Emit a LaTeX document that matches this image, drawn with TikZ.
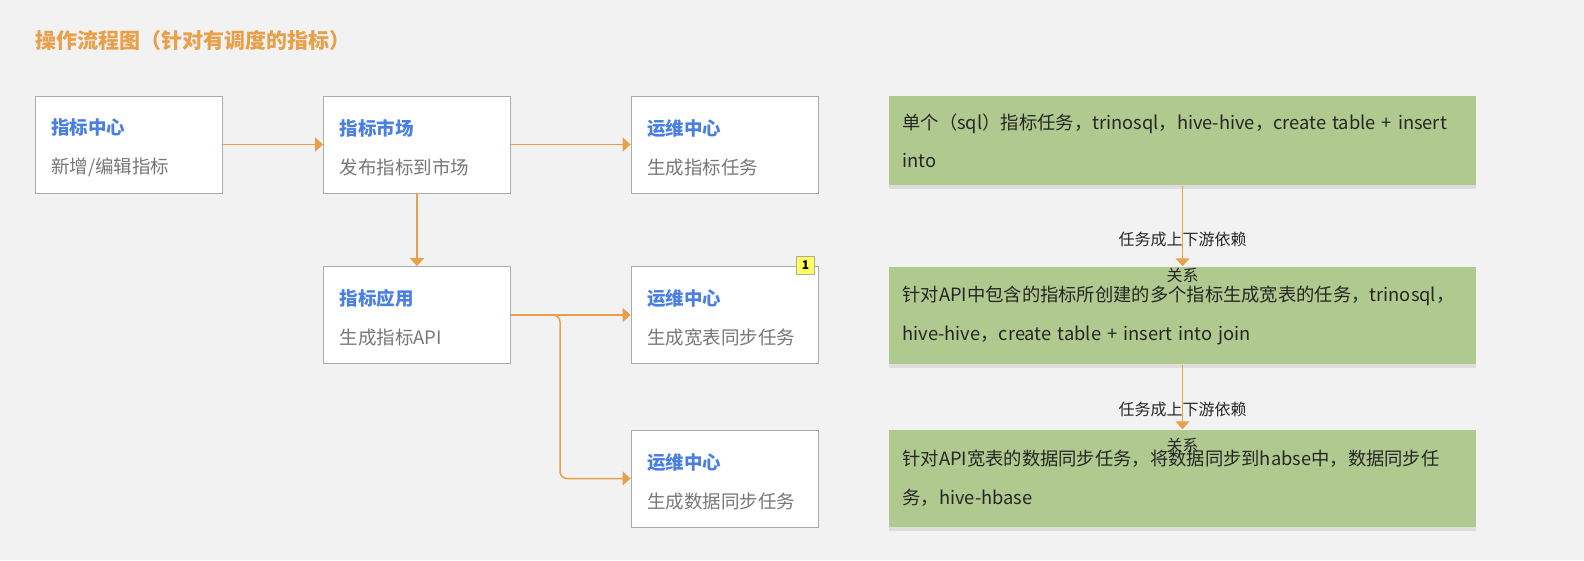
\documentclass[tikz,border=0pt]{standalone}
\usepackage{fontspec}
\setmainfont{Noto Sans CJK SC}
\usetikzlibrary{arrows.meta,shadows}

\definecolor{bgcol}{HTML}{F2F2F2}
\definecolor{boxline}{HTML}{ABABAB}
\definecolor{headblue}{HTML}{4A80E2}
\definecolor{subgray}{HTML}{777777}
\definecolor{flowcol}{HTML}{E9A04A}
\definecolor{taskgreen}{HTML}{B0C98E}
\definecolor{badgeyellow}{HTML}{FFFF5E}

\newcommand{\headtxt}[1]{\rule{0pt}{22pt}\textcolor{headblue}{\bfseries #1}}
\newcommand{\subtxt}[1]{\textcolor{subgray}{#1}}

\begin{document}
\begin{tikzpicture}[x=1pt,y=-1pt,>={Triangle[length=8pt,width=14pt]},line width=1.5pt]
        \tikzstyle{stepbox}=[draw=boxline, line width=0.8pt, fill=white, minimum width=187pt, minimum height=97pt,
                              text width=155pt, align=left, inner xsep=16pt, font=\fontsize{18.5}{22}\selectfont]
        \tikzstyle{taskbox}=[fill=taskgreen, minimum width=587pt, text width=560pt, align=left, inner xsep=13.5pt,
                              font=\fontsize{18.3}{22}\selectfont, text=black!85,
                              drop shadow={opacity=0.18, shadow xshift=0pt, shadow yshift=-4pt}]
        \tikzstyle{flow}=[->, draw=flowcol, line width=1.5pt]
        \tikzstyle{deplabel}=[font=\fontsize{16}{19}\selectfont, text=black!85, align=center, inner sep=0pt]

        % background
        \fill[bgcol] (0,0) rectangle (1584,560);
        \useasboundingbox (0,0) rectangle (1584,560);

        \node[anchor=west, text=flowcol, font=\fontsize{21}{24}\selectfont\bfseries, inner sep=0pt] (title) at (35,41)
              {操作流程图（针对有调度的指标）};

        % left flow
        \node[stepbox] (center)  at (128.5,144.5) {\headtxt{指标中心}\\[17pt]\subtxt{新增/编辑指标}};
        \node[stepbox] (market)  at (417,144.5)   {\headtxt{指标市场}\\[17pt]\subtxt{发布指标到市场}};
        \node[stepbox] (ops1)    at (724.5,144.5) {\headtxt{运维中心}\\[17pt]\subtxt{生成指标任务}};
        \node[stepbox] (app)     at (417,315)     {\headtxt{指标应用}\\[17pt]\subtxt{生成指标API}};
        \node[stepbox] (ops2)    at (724.5,315)   {\headtxt{运维中心}\\[17pt]\subtxt{生成宽表同步任务}};
        \node[stepbox] (ops3)    at (724.5,478.5) {\headtxt{运维中心}\\[17pt]\subtxt{生成数据同步任务}};
        \node[draw=boxline, line width=0.5pt, fill=badgeyellow, minimum size=18pt, inner sep=0pt,
              font=\fontsize{12}{12}\selectfont\bfseries] (badge) at (805.5,265.5) {1};

        \coordinate (fork) at (560,315);
        \draw[flow] (center) -- (market);
        \draw[flow] (market) -- (ops1);
        \draw[flow] (market) -- (app);
        \draw[flow] (app) -- (ops2);
        \draw[flow, rounded corners=7pt] (app.east) -- (fork) |- (ops3.west);

        % right side tasks
        \node[taskbox, minimum height=89pt] (sqltask) at (1182.5,140.5)
              {单个（sql）指标任务，trinosql，hive-hive，create table + insert\\[16pt]into};
        \node[taskbox, minimum height=97pt] (widetask) at (1182.5,315.5)
              {针对API中包含的指标所创建的多个指标生成宽表的任务，trinosql，\\[17pt]hive-hive，create table + insert into join};
        \node[taskbox, minimum height=97pt] (synctask) at (1182.5,478.5)
              {针对API宽表的数据同步任务，将数据同步到habse中，数据同步任\\[17pt]务，hive-hbase};

        \draw[flow, line width=1pt] (sqltask) -- node[deplabel, yshift=-31pt] {任务成上下游依赖\\[17pt]关系} (widetask);
        \draw[flow, line width=1pt] (widetask) -- node[deplabel, yshift=-30pt] {任务成上下游依赖\\[17pt]关系} (synctask);
\end{tikzpicture}
\end{document}
